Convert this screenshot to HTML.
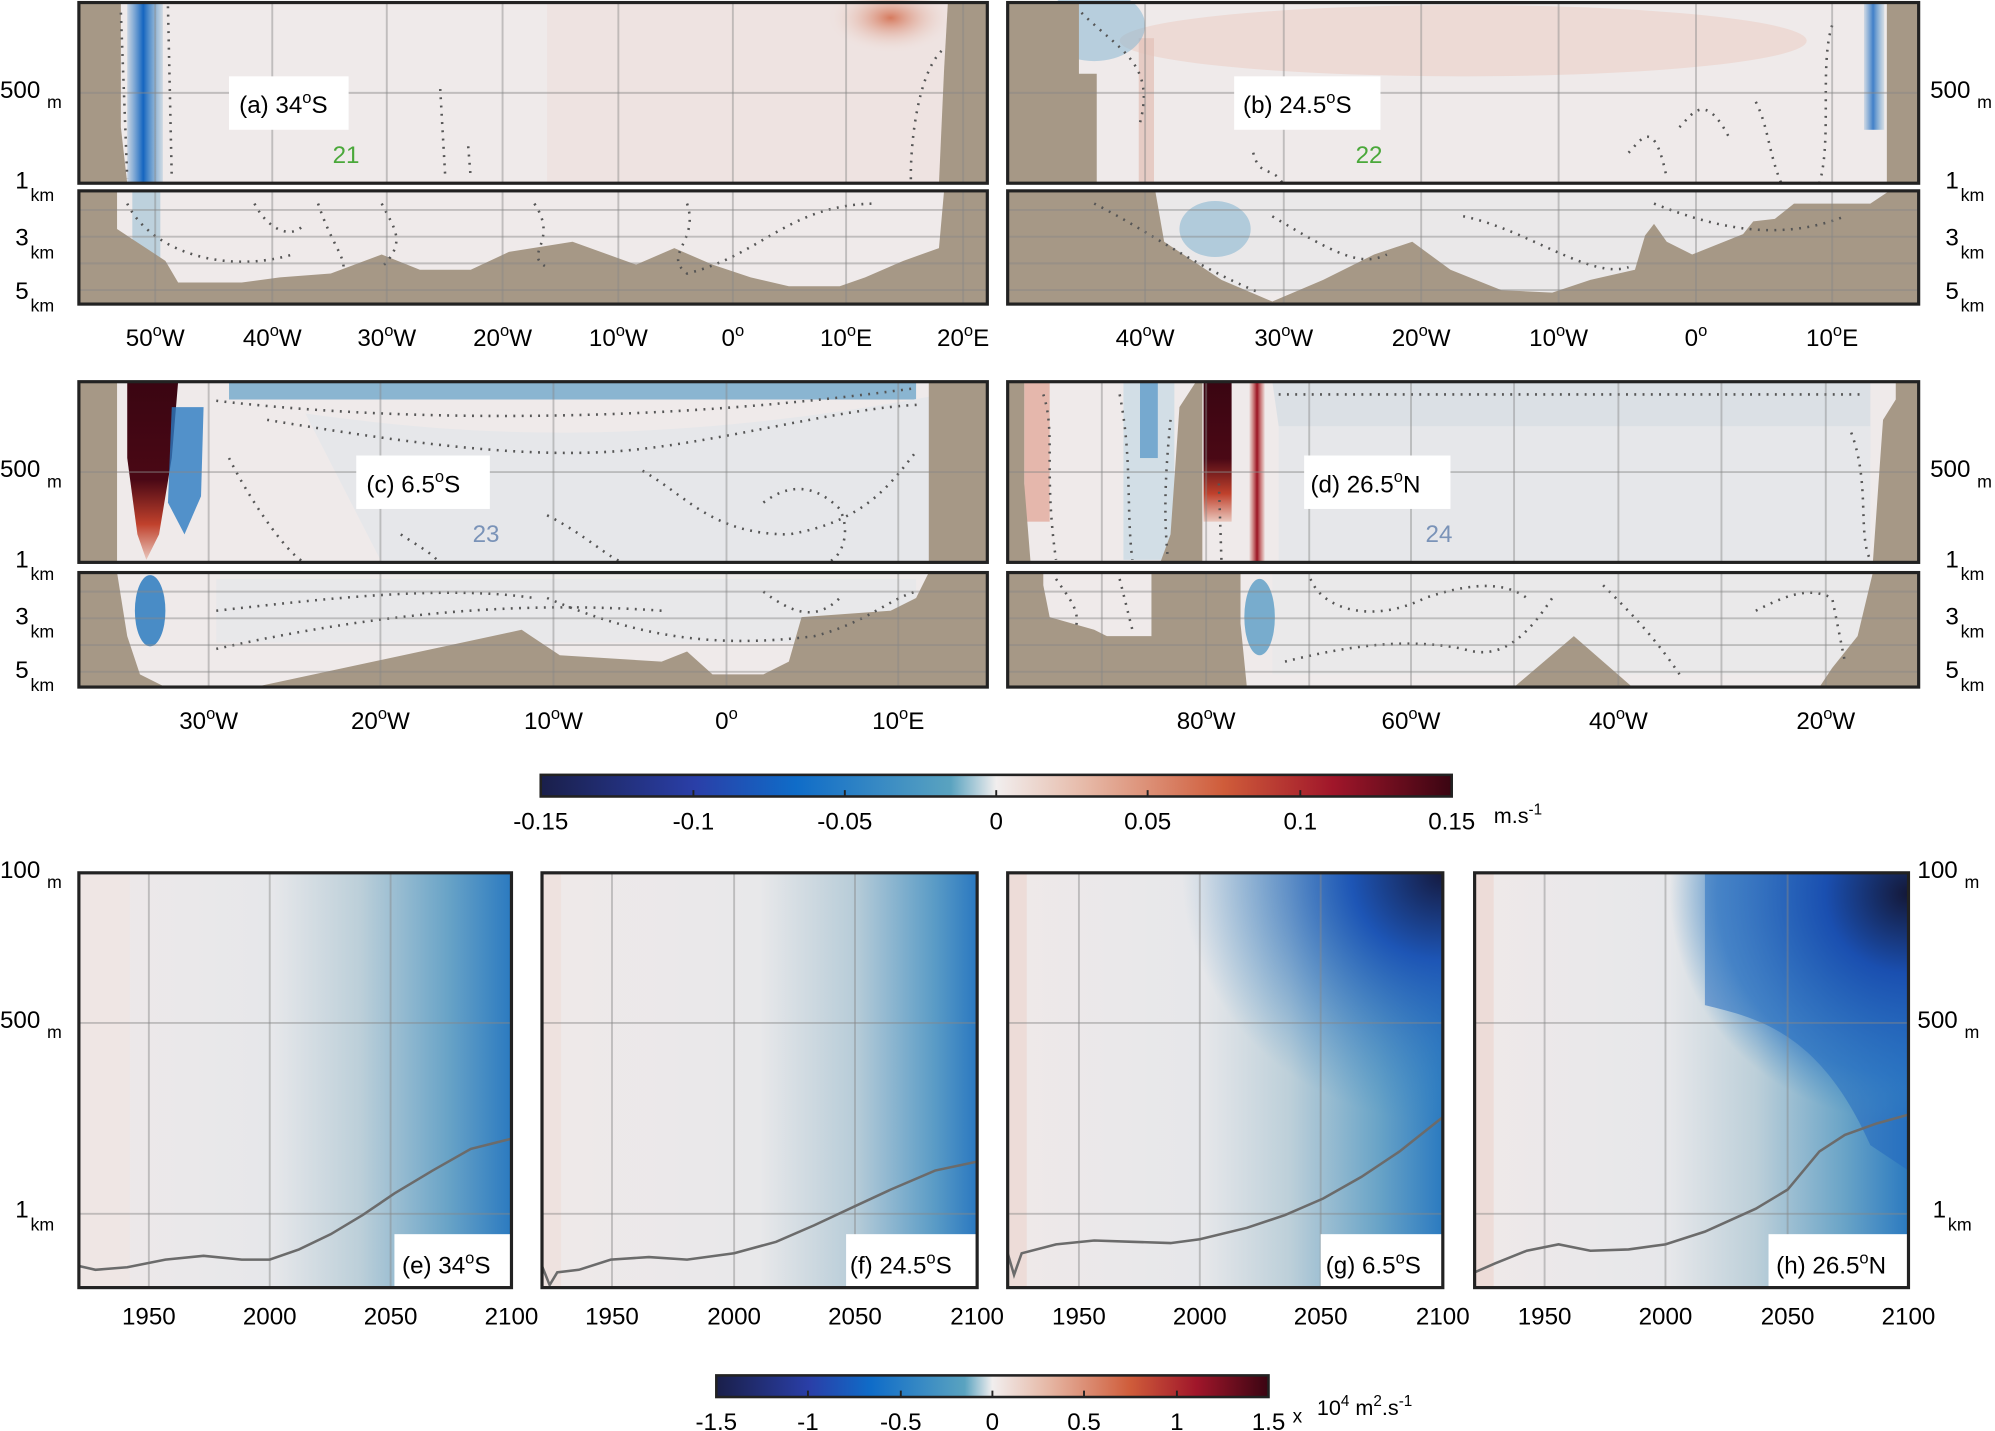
<!DOCTYPE html>
<html><head><meta charset="utf-8"><style>html,body{margin:0;padding:0;background:#fff}svg{display:block}text{font-family:"Liberation Sans",sans-serif;fill:#000}</style></head><body>
<svg width="1995" height="1431" viewBox="0 0 1568 1124.7" preserveAspectRatio="none" xmlns="http://www.w3.org/2000/svg">
<defs>
<linearGradient id="cb1" x1="0" x2="1"><stop offset="0" stop-color="#1a1f4a"/><stop offset="0.17" stop-color="#2a3fa8"/><stop offset="0.28" stop-color="#0f6cc8"/><stop offset="0.45" stop-color="#5aa3c0"/><stop offset="0.5" stop-color="#f1eeee"/><stop offset="0.6" stop-color="#e6b8a6"/><stop offset="0.75" stop-color="#cf5c3a"/><stop offset="0.87" stop-color="#a0162a"/><stop offset="1" stop-color="#3a0512"/></linearGradient>
<linearGradient id="bv" x1="0" x2="1"><stop offset="0" stop-color="#2d7cc4" stop-opacity="0.2"/><stop offset="0.45" stop-color="#1565c0"/><stop offset="1" stop-color="#4a93c6" stop-opacity="0.2"/></linearGradient>
<linearGradient id="rv" x1="0" x2="1"><stop offset="0" stop-color="#c0392b" stop-opacity="0.1"/><stop offset="0.5" stop-color="#9a1222"/><stop offset="1" stop-color="#c0392b" stop-opacity="0.1"/></linearGradient>
<linearGradient id="rd" x1="0" y1="0" x2="0" y2="1"><stop offset="0" stop-color="#3a0512"/><stop offset="0.55" stop-color="#4a0815"/><stop offset="0.8" stop-color="#c0412c"/><stop offset="1" stop-color="#e9c7bd"/></linearGradient>
<linearGradient id="bt" x1="0" x2="1"><stop offset="0" stop-color="#efe9e9"/><stop offset="0.45" stop-color="#e6e7ea"/><stop offset="0.65" stop-color="#bccfd9"/><stop offset="0.85" stop-color="#6aa4c7"/><stop offset="1" stop-color="#2b7ac0"/></linearGradient>
<linearGradient id="bt2" x1="0" x2="1"><stop offset="0" stop-color="#efe9e9"/><stop offset="0.5" stop-color="#e8e8ea"/><stop offset="0.72" stop-color="#b7ccd8"/><stop offset="0.9" stop-color="#5b9cc6"/><stop offset="1" stop-color="#2a78c0"/></linearGradient>
<radialGradient id="dk" cx="1" cy="0" r="0.6"><stop offset="0" stop-color="#151a40"/><stop offset="0.35" stop-color="#1d55b5"/><stop offset="1" stop-color="#3d8cc6" stop-opacity="0"/></radialGradient>
<radialGradient id="dk2" cx="1" cy="0.05" r="0.55"><stop offset="0" stop-color="#141838"/><stop offset="0.35" stop-color="#1a4fb0"/><stop offset="0.8" stop-color="#2b74c2" stop-opacity="0.6"/><stop offset="1" stop-color="#3d8cc6" stop-opacity="0"/></radialGradient>
<radialGradient id="rb" cx="0.5" cy="0.5" r="0.5"><stop offset="0" stop-color="#d67a5e"/><stop offset="1" stop-color="#efe2de" stop-opacity="0"/></radialGradient>
</defs>

<!-- Panel a upper -->
<rect x="62" y="2" width="714" height="142" fill="#efeaea"/>
<rect x="430" y="2" width="320" height="142" fill="#ecdcd8" opacity="0.55"/>
<ellipse cx="700" cy="14" rx="50" ry="28" fill="url(#rb)"/>
<rect x="100" y="2" width="28" height="142" fill="url(#bv)"/>
<polygon points="62,2 95,2 95,100 100,144 62,144" fill="#a69886"/>
<polygon points="776,2 745,2 742,55 738,144 776,144" fill="#a69886"/>
<!-- Panel a lower -->
<rect x="62" y="150" width="714" height="89" fill="#efeaea"/>
<rect x="104" y="150" width="22" height="60" fill="#9bbfd4" opacity="0.6"/>
<polygon points="62,150 92,150 92,180 130,205 140,222 190,222 220,218 260,215 300,200 330,212 370,212 400,198 450,190 500,208 530,195 560,208 590,218 620,225 660,225 680,218 710,205 738,195 742,150 776,150 776,239 62,239" fill="#a69886"/>
<!-- Panel b upper -->
<rect x="792" y="2" width="716" height="142" fill="#efeaea"/>
<ellipse cx="1150" cy="32" rx="270" ry="28" fill="#ecd6d0" opacity="0.8"/>
<rect x="895" y="30" width="12" height="114" fill="#e3c3ba" opacity="0.8"/>
<ellipse cx="860" cy="20" rx="40" ry="28" fill="#7fb1d0" opacity="0.5"/>
<rect x="1465" y="2" width="16" height="100" fill="url(#bv)" opacity="0.8"/>
<polygon points="792,2 848,2 848,58 862,58 862,144 792,144" fill="#a69886"/>
<polygon points="1508,2 1483,2 1483,144 1508,144" fill="#a69886"/>
<!-- Panel b lower -->
<rect x="792" y="150" width="716" height="89" fill="#efeaea"/>
<rect x="860" y="150" width="620" height="80" fill="#e6e6e8" opacity="0.6"/>
<ellipse cx="955" cy="180" rx="28" ry="22" fill="#8bb8d2" opacity="0.6"/>
<polygon points="792,150 908,150 915,190 960,220 1000,237 1040,220 1080,200 1110,190 1140,212 1180,228 1220,230 1250,220 1285,212 1293,185 1300,176 1310,190 1330,200 1370,184 1378,174 1395,172 1410,160 1470,160 1485,150 1508,150 1508,239 792,239" fill="#a69886"/>
<!-- Panel c upper -->
<rect x="62" y="300" width="714" height="142" fill="#efeaea"/>
<rect x="180" y="300" width="540" height="14" fill="#5f9ec6" opacity="0.7"/>
<path d="M240,325 C350,340 500,355 740,310 L740,442 L300,442 Z" fill="#e6e7ea"/>
<path d="M100,300 L140,300 L135,360 L125,420 L115,440 L108,420 L100,360 Z" fill="url(#rd)"/>
<path d="M135,320 L160,320 L158,390 L145,420 L132,395 Z" fill="#2a7bc2" opacity="0.8"/>
<polygon points="62,300 92,300 92,442 62,442" fill="#a69886"/>
<polygon points="776,300 730,300 730,442 776,442" fill="#a69886"/>
<!-- Panel c lower -->
<rect x="62" y="450" width="714" height="90" fill="#efeaea"/>
<rect x="170" y="455" width="550" height="50" fill="#e6e7ea" opacity="0.7"/>
<ellipse cx="118" cy="480" rx="12" ry="28" fill="#2c7bc0" opacity="0.85"/>
<polygon points="62,450 92,450 100,500 110,530 130,540 62,540" fill="#a69886"/>
<polygon points="200,540 410,495 440,515 520,520 540,512 560,530 600,530 620,520 630,485 700,480 720,470 730,450 776,450 776,540" fill="#a69886"/>
<!-- Panel d upper -->
<rect x="792" y="300" width="716" height="142" fill="#efeaea"/>
<path d="M1000,300 L1470,300 L1470,360 C1350,340 1100,345 1005,335 Z" fill="#dbe0e5"/>
<rect x="1005" y="335" width="465" height="107" fill="#e6e7ea"/>
<rect x="805" y="300" width="20" height="110" fill="#e2aa9c" opacity="0.8"/>
<rect x="883" y="300" width="40" height="140" fill="#c6d9e4" opacity="0.7"/>
<rect x="896" y="300" width="14" height="60" fill="#4e93c4" opacity="0.7"/>
<rect x="946" y="300" width="22" height="110" fill="url(#rd)"/>
<rect x="982" y="300" width="12" height="142" fill="url(#rv)"/>
<polygon points="792,300 805,300 805,380 810,442 792,442" fill="#a69886"/>
<polygon points="912,442 920,420 927,320 940,300 945,300 945,442" fill="#a69886"/>
<polygon points="1508,300 1490,300 1490,314 1480,330 1472,442 1508,442" fill="#a69886"/>
<!-- Panel d lower -->
<rect x="792" y="450" width="716" height="90" fill="#efeaea"/>
<rect x="1000" y="450" width="470" height="80" fill="#e6e7ea" opacity="0.6"/>
<ellipse cx="990" cy="485" rx="12" ry="30" fill="#5a9cc6" opacity="0.8"/>
<polygon points="792,450 820,450 820,460 825,485 860,495 870,500 905,500 905,450 975,450 975,490 980,540 792,540" fill="#a69886"/>
<polygon points="1190,540 1237,500 1283,540" fill="#a69886"/>
<polygon points="1472,450 1508,450 1508,540 1430,540 1440,525 1460,500" fill="#a69886"/>

<!-- dotted contours -->
<g stroke="#555" stroke-width="2" stroke-dasharray="1.5 5" fill="none">
<path d="M95,10 L100,140"/><path d="M132,5 L135,140"/><path d="M346,70 L350,140"/><path d="M368,115 L370,140"/>
<path d="M740,40 C720,60 715,120 716,144"/><path d="M100,160 C120,200 180,215 230,200"/><path d="M300,160 C310,180 320,190 300,210"/>
<path d="M420,160 C440,190 410,200 430,210"/><path d="M540,160 C550,190 520,200 540,215 C600,200 620,160 690,160"/>
<path d="M200,160 C210,180 230,190 240,175"/><path d="M250,160 C260,190 270,200 270,210"/>
<path d="M850,10 C880,40 910,50 895,100"/><path d="M1440,20 C1430,50 1440,110 1430,144"/>
<path d="M985,120 C990,140 1000,130 1008,144"/><path d="M1280,120 C1290,110 1300,90 1310,140"/>
<path d="M1320,100 C1330,90 1340,70 1360,110"/><path d="M1380,80 C1390,100 1390,120 1400,144"/>
<path d="M860,160 C900,180 940,210 990,230"/><path d="M1000,170 C1050,200 1070,210 1090,200"/><path d="M1150,170 C1200,180 1250,220 1280,210"/><path d="M1300,160 C1350,180 1400,190 1450,170"/>
<path d="M170,315 C300,330 500,335 720,305"/><path d="M210,330 C300,345 400,360 480,355 C560,350 660,320 725,318"/>
<path d="M505,370 C540,390 560,420 620,420 C680,410 700,380 720,355"/><path d="M600,395 C620,380 640,380 660,400 C670,420 660,440 650,442"/>
<path d="M180,360 C200,400 230,440 240,442"/><path d="M315,420 C330,430 340,435 345,442"/><path d="M430,405 C460,420 480,440 490,442"/>
<path d="M170,480 C260,470 350,460 420,470"/><path d="M170,510 C260,490 380,470 520,480"/><path d="M430,470 C500,500 560,510 640,500 C680,490 700,470 720,465"/><path d="M600,465 C620,480 640,490 660,470"/>
<path d="M820,310 C830,340 820,370 830,440"/><path d="M880,310 C890,360 885,400 890,440"/><path d="M920,330 C915,380 915,410 918,440"/><path d="M958,380 L960,440"/>
<path d="M1005,310 L1465,310"/><path d="M1455,340 C1470,380 1460,420 1470,440"/>
<path d="M830,455 C840,470 850,480 845,495"/><path d="M880,455 L890,495"/><path d="M1030,455 C1040,480 1080,490 1120,470 C1150,460 1180,455 1200,470"/>
<path d="M1010,520 C1050,510 1100,500 1150,510 C1180,520 1200,500 1220,470"/><path d="M1260,460 C1280,480 1300,500 1320,530"/><path d="M1380,480 C1400,470 1420,460 1440,470 L1450,520"/>
</g>

<!-- grid lines -->
<g stroke="#888" stroke-opacity="0.45" stroke-width="1.5">
<line x1="62" x2="776" y1="73" y2="73"/><line x1="792" x2="1508" y1="73" y2="73"/>
<line x1="62" x2="776" y1="371" y2="371"/><line x1="792" x2="1508" y1="371" y2="371"/>
<line x1="62" x2="776" y1="165" y2="165"/><line x1="62" x2="776" y1="186" y2="186"/><line x1="62" x2="776" y1="207" y2="207"/><line x1="62" x2="776" y1="228" y2="228"/>
<line x1="792" x2="1508" y1="165" y2="165"/><line x1="792" x2="1508" y1="186" y2="186"/><line x1="792" x2="1508" y1="207" y2="207"/><line x1="792" x2="1508" y1="228" y2="228"/>
<line x1="62" x2="776" y1="465" y2="465"/><line x1="62" x2="776" y1="486" y2="486"/><line x1="62" x2="776" y1="507" y2="507"/><line x1="62" x2="776" y1="528" y2="528"/>
<line x1="792" x2="1508" y1="465" y2="465"/><line x1="792" x2="1508" y1="486" y2="486"/><line x1="792" x2="1508" y1="507" y2="507"/><line x1="792" x2="1508" y1="528" y2="528"/>
<path d="M122,2V144M214,2V144M304,2V144M395,2V144M486,2V144M576,2V144M665,2V144M757,2V144M122,150V239M214,150V239M304,150V239M395,150V239M486,150V239M576,150V239M665,150V239M757,150V239"/>
<path d="M900,2V144M1009,2V144M1117,2V144M1225,2V144M1333,2V144M1440,2V144M900,150V239M1009,150V239M1117,150V239M1225,150V239M1333,150V239M1440,150V239"/>
<path d="M164,300V442M299,300V442M435,300V442M571,300V442M706,300V442M164,450V540M299,450V540M435,450V540M571,450V540M706,450V540"/>
<path d="M866,300V442M948,300V442M1029,300V442M1109,300V442M1190,300V442M1272,300V442M1353,300V442M1435,300V442M866,450V540M948,450V540M1029,450V540M1109,450V540M1190,450V540M1272,450V540M1353,450V540M1435,450V540"/>
</g>
<!-- frames -->
<g fill="none" stroke="#222" stroke-width="2.5">
<rect x="62" y="2" width="714" height="142"/><rect x="62" y="150" width="714" height="89"/>
<rect x="792" y="2" width="716" height="142"/><rect x="792" y="150" width="716" height="89"/>
<rect x="62" y="300" width="714" height="142"/><rect x="62" y="450" width="714" height="90"/>
<rect x="792" y="300" width="716" height="142"/><rect x="792" y="450" width="716" height="90"/>
</g>
<!-- labels in panels -->
<g font-size="19">
<rect x="180" y="60" width="94" height="42" fill="#fff"/><text x="188" y="89">(a) 34<tspan dy="-8" font-size="13">o</tspan><tspan dy="8">S</tspan></text>
<rect x="970" y="60" width="115" height="42" fill="#fff"/><text x="977" y="89">(b) 24.5<tspan dy="-8" font-size="13">o</tspan><tspan dy="8">S</tspan></text>
<rect x="280" y="358" width="105" height="42" fill="#fff"/><text x="288" y="387">(c) 6.5<tspan dy="-8" font-size="13">o</tspan><tspan dy="8">S</tspan></text>
<rect x="1025" y="358" width="115" height="42" fill="#fff"/><text x="1030" y="387">(d) 26.5<tspan dy="-8" font-size="13">o</tspan><tspan dy="8">N</tspan></text>
<text x="272" y="128" text-anchor="middle" style="fill:#4aa83a">21</text>
<text x="1076" y="128" text-anchor="middle" style="fill:#4aa83a">22</text>
<text x="382" y="426" text-anchor="middle" style="fill:#7a93b8">23</text>
<text x="1131" y="426" text-anchor="middle" style="fill:#7a93b8">24</text>
</g>
<!-- axis labels -->
<g font-size="19" text-anchor="middle">
<text x="122" y="272">50<tspan dy="-8" font-size="13">o</tspan><tspan dy="8">W</tspan></text><text x="214" y="272">40<tspan dy="-8" font-size="13">o</tspan><tspan dy="8">W</tspan></text><text x="304" y="272">30<tspan dy="-8" font-size="13">o</tspan><tspan dy="8">W</tspan></text><text x="395" y="272">20<tspan dy="-8" font-size="13">o</tspan><tspan dy="8">W</tspan></text><text x="486" y="272">10<tspan dy="-8" font-size="13">o</tspan><tspan dy="8">W</tspan></text><text x="576" y="272">0<tspan dy="-8" font-size="13">o</tspan></text><text x="665" y="272">10<tspan dy="-8" font-size="13">o</tspan><tspan dy="8">E</tspan></text><text x="757" y="272">20<tspan dy="-8" font-size="13">o</tspan><tspan dy="8">E</tspan></text>
<text x="900" y="272">40<tspan dy="-8" font-size="13">o</tspan><tspan dy="8">W</tspan></text><text x="1009" y="272">30<tspan dy="-8" font-size="13">o</tspan><tspan dy="8">W</tspan></text><text x="1117" y="272">20<tspan dy="-8" font-size="13">o</tspan><tspan dy="8">W</tspan></text><text x="1225" y="272">10<tspan dy="-8" font-size="13">o</tspan><tspan dy="8">W</tspan></text><text x="1333" y="272">0<tspan dy="-8" font-size="13">o</tspan></text><text x="1440" y="272">10<tspan dy="-8" font-size="13">o</tspan><tspan dy="8">E</tspan></text>
<text x="164" y="573">30<tspan dy="-8" font-size="13">o</tspan><tspan dy="8">W</tspan></text><text x="299" y="573">20<tspan dy="-8" font-size="13">o</tspan><tspan dy="8">W</tspan></text><text x="435" y="573">10<tspan dy="-8" font-size="13">o</tspan><tspan dy="8">W</tspan></text><text x="571" y="573">0<tspan dy="-8" font-size="13">o</tspan></text><text x="706" y="573">10<tspan dy="-8" font-size="13">o</tspan><tspan dy="8">E</tspan></text>
<text x="948" y="573">80<tspan dy="-8" font-size="13">o</tspan><tspan dy="8">W</tspan></text><text x="1109" y="573">60<tspan dy="-8" font-size="13">o</tspan><tspan dy="8">W</tspan></text><text x="1272" y="573">40<tspan dy="-8" font-size="13">o</tspan><tspan dy="8">W</tspan></text><text x="1435" y="573">20<tspan dy="-8" font-size="13">o</tspan><tspan dy="8">W</tspan></text>
</g>
<!-- depth labels -->
<g font-size="19">
<g id="dl">
<text x="0" y="77">500</text><text x="37" y="85" font-size="14">m</text>
<text x="12" y="148">1</text><text x="24" y="158" font-size="14">km</text>
<text x="12" y="193">3</text><text x="24" y="203" font-size="14">km</text>
<text x="12" y="235">5</text><text x="24" y="245" font-size="14">km</text>
</g>
<use href="#dl" x="1517"/>
<use href="#dl" y="298"/>
<use href="#dl" x="1517" y="298"/>
</g>

<!-- colorbar 1 -->
<rect x="425" y="609" width="716" height="17" fill="url(#cb1)" stroke="#222" stroke-width="2"/>
<g stroke="#222" stroke-width="1.5"><path d="M545,626v-5M664,626v-5M783,626v-5M902,626v-5M1022,626v-5"/></g>
<g font-size="19" text-anchor="middle">
<text x="425" y="652">-0.15</text><text x="545" y="652">-0.1</text><text x="664" y="652">-0.05</text><text x="783" y="652">0</text><text x="902" y="652">0.05</text><text x="1022" y="652">0.1</text><text x="1141" y="652">0.15</text>
</g>
<text x="1174" y="647" font-size="17">m.s<tspan dy="-7" font-size="12">-1</tspan></text>

<!-- bottom panels -->
<rect x="62" y="686" width="340" height="326" fill="url(#bt)"/>
<rect x="62" y="686" width="40" height="326" fill="#efe6e4"/>
<rect x="426" y="686" width="342" height="326" fill="url(#bt2)"/>
<rect x="426" y="686" width="15" height="326" fill="#eee2df"/>
<rect x="792" y="686" width="342" height="326" fill="url(#bt)"/>
<rect x="792" y="686" width="342" height="326" fill="url(#dk)"/>
<rect x="792" y="686" width="15" height="326" fill="#eddcd8"/>
<rect x="1159" y="686" width="341" height="326" fill="url(#bt)"/>
<path d="M1340,686 L1500,686 L1500,920 L1470,900 C1430,810 1380,800 1340,790 Z" fill="#2267bf" opacity="0.55"/>
<rect x="1159" y="686" width="341" height="326" fill="url(#dk2)"/>
<rect x="1159" y="686" width="15" height="326" fill="#eddcd8"/>
<g stroke="#888" stroke-opacity="0.45" stroke-width="1.5">
<path d="M62,804H402M62,954H402M426,804H768M426,954H768M792,804H1134M792,954H1134M1159,804H1500M1159,954H1500"/>
<path d="M117,686V1012M212,686V1012M307,686V1012M481,686V1012M577,686V1012M672,686V1012M848,686V1012M943,686V1012M1038,686V1012M1214,686V1012M1309,686V1012M1405,686V1012"/>
</g>
<g fill="none" stroke="#6b6b6b" stroke-width="2">
<path d="M62,995 L75,998 L100,996 L130,990 L160,987 L190,990 L212,990 L235,982 L260,970 L285,955 L310,938 L340,920 L370,903 L402,895"/>
<path d="M426,995 L432,1010 L438,1000 L455,998 L480,990 L510,988 L540,990 L577,985 L610,976 L640,963 L672,948 L700,935 L735,920 L768,913"/>
<path d="M792,985 L797,1002 L803,985 L830,978 L860,975 L890,976 L920,977 L943,974 L980,965 L1010,955 L1040,942 L1070,925 L1100,905 L1134,878"/>
<path d="M1159,1000 L1175,993 L1200,983 L1225,978 L1250,983 L1280,982 L1309,978 L1340,968 L1380,950 L1405,935 L1430,905 L1450,892 L1475,883 L1500,876"/>
</g>
<g font-size="19">
<rect x="310" y="970" width="92" height="42" fill="#fff"/><text x="316" y="1001">(e) 34<tspan dy="-8" font-size="13">o</tspan><tspan dy="8">S</tspan></text>
<rect x="665" y="970" width="103" height="42" fill="#fff"/><text x="668" y="1001">(f) 24.5<tspan dy="-8" font-size="13">o</tspan><tspan dy="8">S</tspan></text>
<rect x="1038" y="970" width="96" height="42" fill="#fff"/><text x="1042" y="1001">(g) 6.5<tspan dy="-8" font-size="13">o</tspan><tspan dy="8">S</tspan></text>
<rect x="1390" y="970" width="110" height="42" fill="#fff"/><text x="1396" y="1001">(h) 26.5<tspan dy="-8" font-size="13">o</tspan><tspan dy="8">N</tspan></text>
</g>
<g fill="none" stroke="#222" stroke-width="2.5">
<rect x="62" y="686" width="340" height="326"/><rect x="426" y="686" width="342" height="326"/><rect x="792" y="686" width="342" height="326"/><rect x="1159" y="686" width="341" height="326"/>
</g>
<g font-size="19" text-anchor="middle">
<text x="117" y="1041">1950</text><text x="212" y="1041">2000</text><text x="307" y="1041">2050</text><text x="402" y="1041">2100</text>
<text x="481" y="1041">1950</text><text x="577" y="1041">2000</text><text x="672" y="1041">2050</text><text x="768" y="1041">2100</text>
<text x="848" y="1041">1950</text><text x="943" y="1041">2000</text><text x="1038" y="1041">2050</text><text x="1134" y="1041">2100</text>
<text x="1214" y="1041">1950</text><text x="1309" y="1041">2000</text><text x="1405" y="1041">2050</text><text x="1500" y="1041">2100</text>
</g>
<g font-size="19">
<g id="bl">
<text x="0" y="690">100</text><text x="37" y="698" font-size="14">m</text>
<text x="0" y="808">500</text><text x="37" y="816" font-size="14">m</text>
<text x="12" y="957">1</text><text x="24" y="967" font-size="14">km</text>
</g>
<use href="#bl" x="1507"/>
</g>

<!-- colorbar 2 -->
<rect x="563" y="1081" width="434" height="17" fill="url(#cb1)" stroke="#222" stroke-width="2"/>
<g stroke="#222" stroke-width="1.5"><path d="M635,1098v-5M708,1098v-5M780,1098v-5M852,1098v-5M925,1098v-5"/></g>
<g font-size="19" text-anchor="middle">
<text x="563" y="1124">-1.5</text><text x="635" y="1124">-1</text><text x="708" y="1124">-0.5</text><text x="780" y="1124">0</text><text x="852" y="1124">0.5</text><text x="925" y="1124">1</text><text x="997" y="1124">1.5</text>
</g>
<text x="1016" y="1118" font-size="15">x</text>
<text x="1035" y="1112" font-size="17">10<tspan dy="-7" font-size="12">4</tspan><tspan dy="7"> m</tspan><tspan dy="-7" font-size="12">2</tspan><tspan dy="7">.s</tspan><tspan dy="-7" font-size="12">-1</tspan></text>
</svg>
</body></html>
